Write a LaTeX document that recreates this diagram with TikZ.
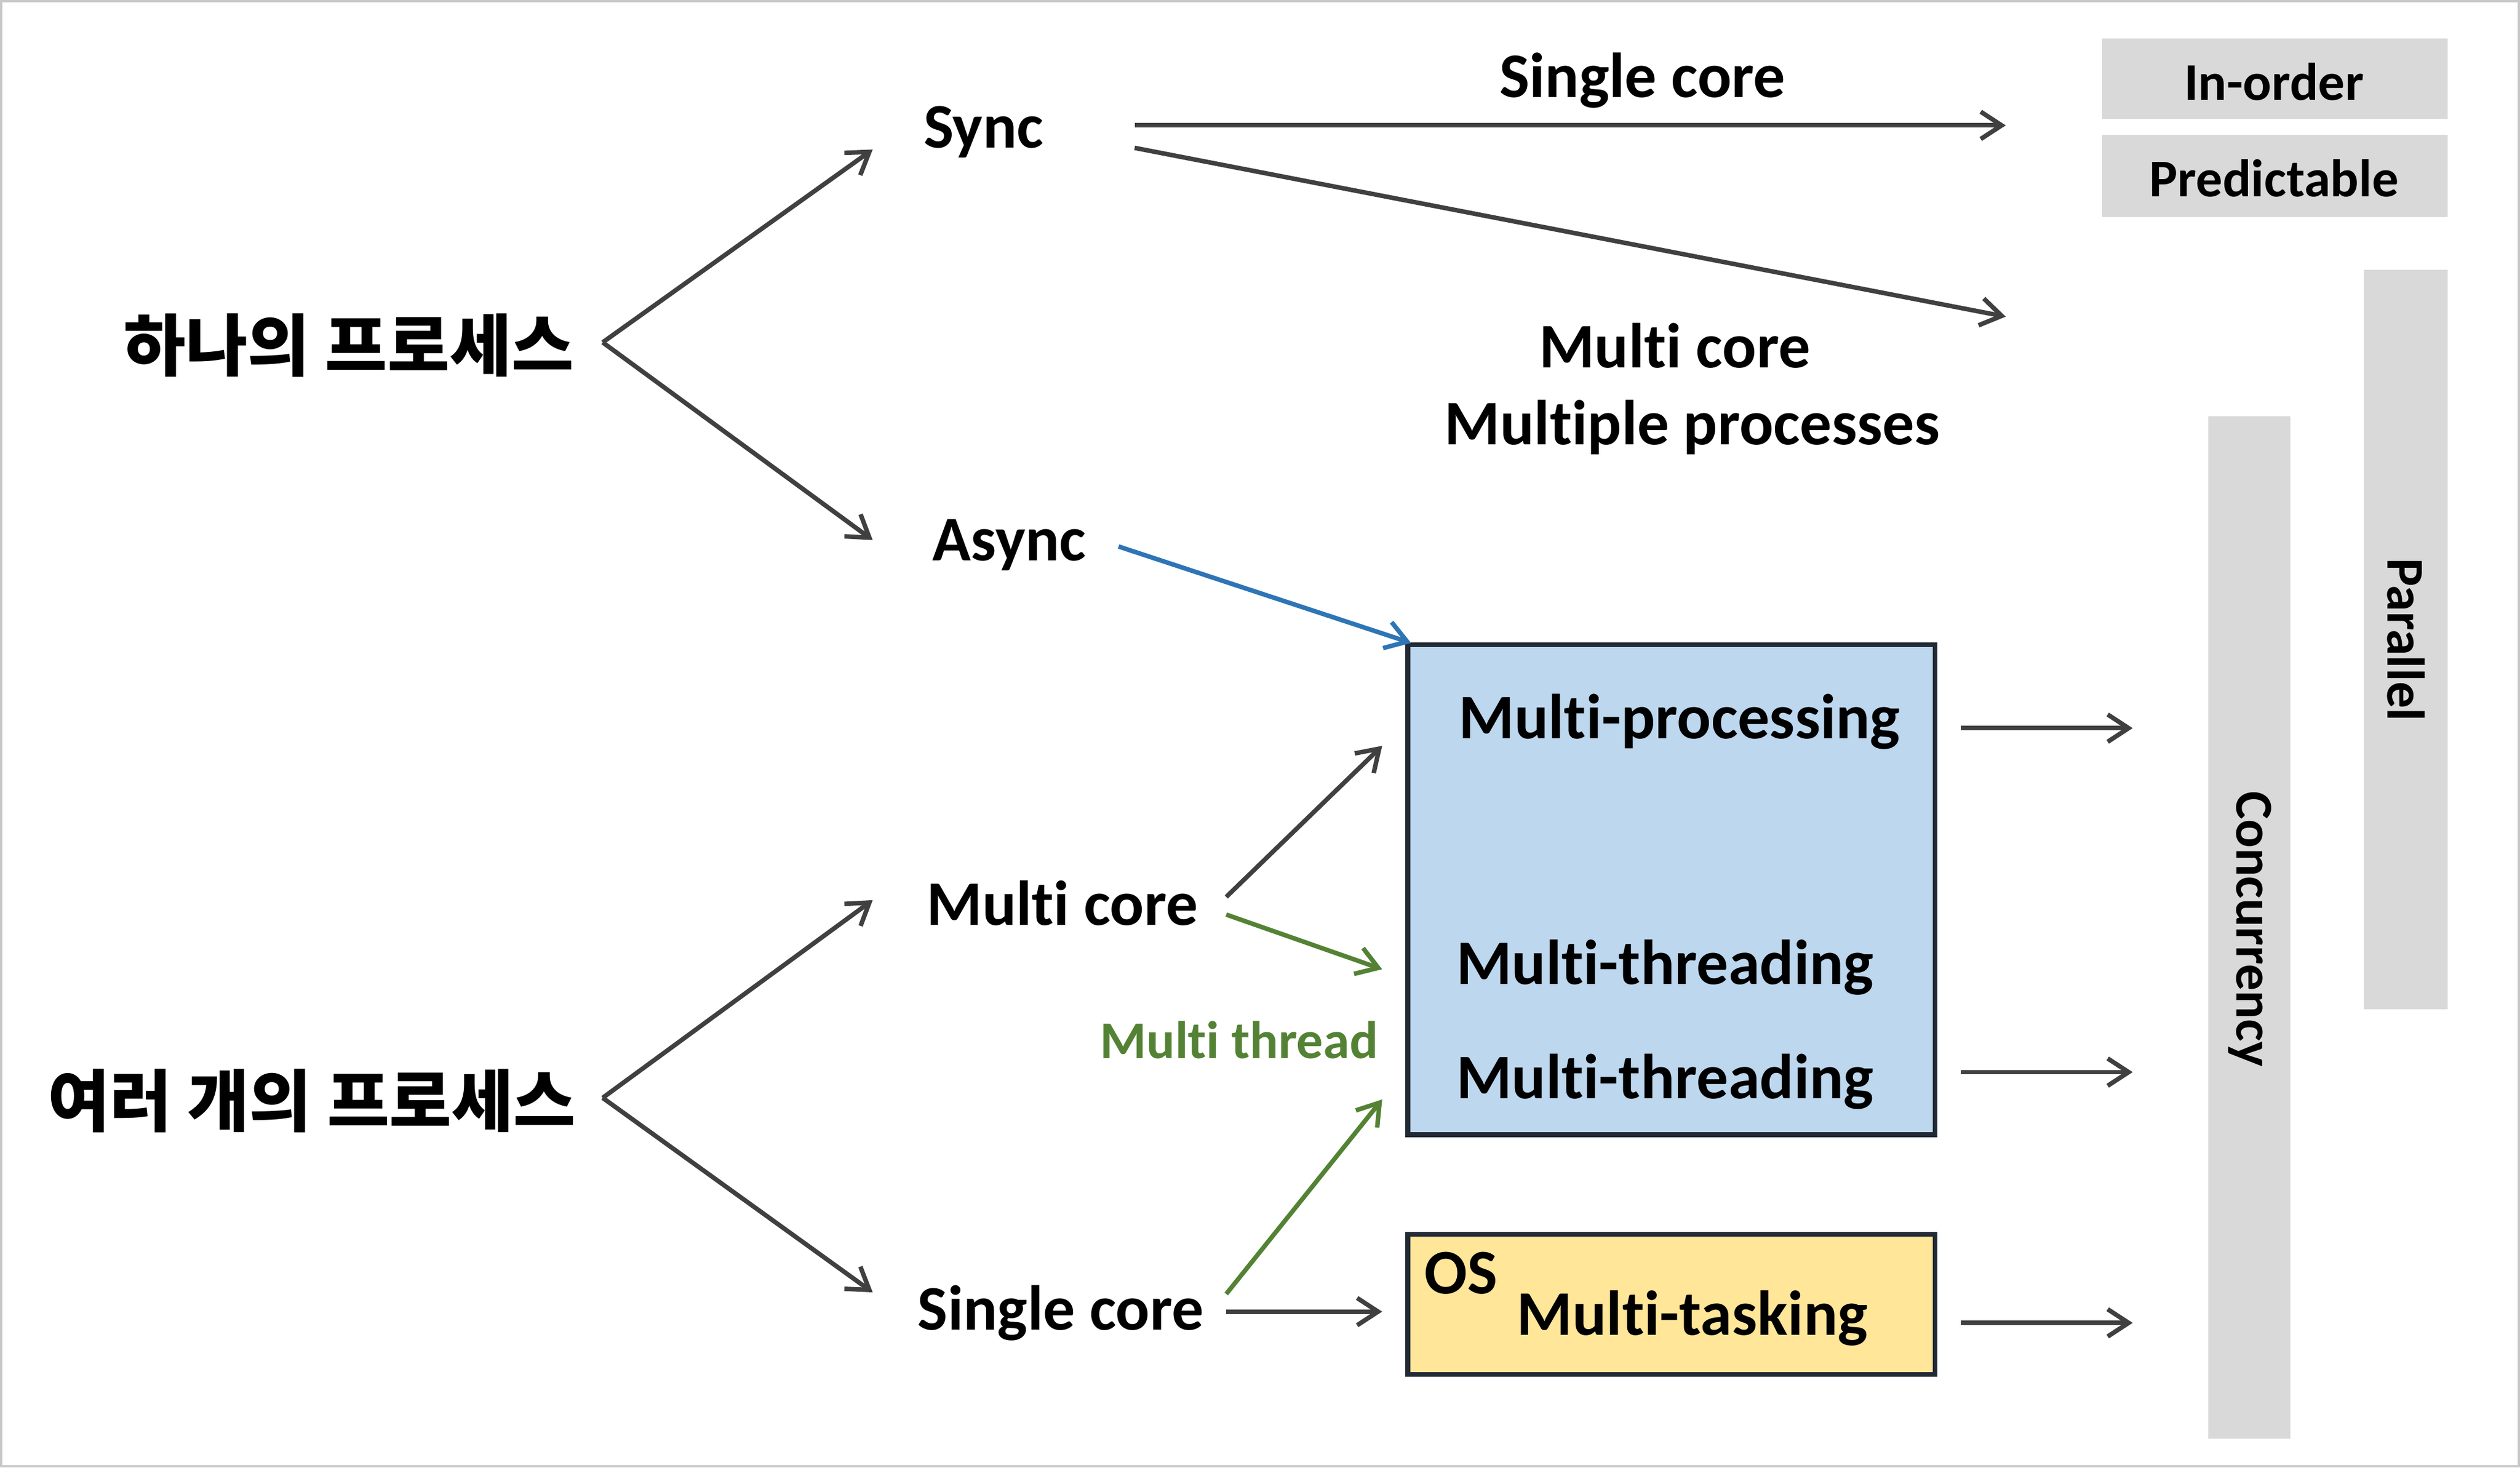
\documentclass[tikz,border=0pt]{standalone}
\usepackage{fontspec}
\setmainfont{Carlito}[Ligatures=NoCommon]
\newfontfamily\kor{Noto Sans CJK KR}
\usetikzlibrary{arrows.meta}

\definecolor{arrowgray}{HTML}{404040}
\definecolor{threadgreen}{HTML}{548235}
\definecolor{asyncblue}{HTML}{2E75B6}
\definecolor{boxline}{HTML}{222A35}
\definecolor{procfill}{HTML}{BDD7EE}
\definecolor{taskfill}{HTML}{FFE699}
\definecolor{barfill}{HTML}{D9D9D9}
\definecolor{framegray}{HTML}{C8C8C8}

\tikzset{
	big/.style={font=\fontsize{39.5}{42}\selectfont\bfseries, inner sep=0pt},
	small/.style={font=\fontsize{33}{35}\selectfont\bfseries, inner sep=0pt},
	korean/.style={font=\kor\fontsize{42}{46}\selectfont\bfseries, inner sep=0pt},
	arr/.style={draw=arrowgray, line width=2.8pt, -{Straight Barb[length=13pt,width=17pt,line width=2.8pt]}},
	greenarr/.style={arr, draw=threadgreen},
	bluearr/.style={arr, draw=asyncblue},
	bar/.style={fill=barfill, draw=none},
}

\begin{document}
\begin{tikzpicture}[x=1pt,y=-1pt]
	\useasboundingbox (0,0) rectangle (1568,913);
	\draw[framegray, line width=1.5pt] (0.75,0.75) rectangle (1567.25,912.25);

	%Gray bars
	\fill[bar] (1308,24) rectangle (1523,74);
	\fill[bar] (1308,84) rectangle (1523,135);
	\fill[bar] (1471,168) rectangle (1523,628);
	\fill[bar] (1374,259) rectangle (1425,895);

	%Boxes
	\draw[boxline, fill=procfill, line width=3pt] (876,401) rectangle (1204,706);
	\draw[boxline, fill=taskfill, line width=3pt] (876,768) rectangle (1204,855);

	%Text
	\node[korean] (one) at (217,215) {하나의 프로세스};
	\node[korean] (many) at (194,685) {여러 개의 프로세스};
	\node[big] (sync) at (612,82) {Sync};
	\node[big] (async) at (628,339) {Async};
	\node[big] (mcore) at (661,562) {Multi core};
	\node[big] (score) at (660,817) {Single core};
	\node[big] (single) at (1022,50) {Single core};
	\node[big] (multi) at (1042,215) {Multi core};
	\node[big] (procs) at (1053,266) {Multiple processes};
	\node[small] (inorder) at (1415,51) {In-order};
	\node[small] (predict) at (1415,111) {Predictable};
	\node[small, rotate=-90] (parallel) at (1497,398) {Parallel};
	\node[small, rotate=-90] (concur) at (1400,578) {Concurrency};
	\node[big] (mproc) at (1045,449) {Multi-processing};
	\node[big] (mthread1) at (1036,602) {Multi-threading};
	\node[big] (mthread2) at (1036,673) {Multi-threading};
	\node[big] (os) at (909,792) {OS};
	\node[big] (mtask) at (1053,820) {Multi-tasking};
	\node[small, threadgreen] (thread) at (771,647) {Multi thread};

	%Arrow ends
	\coordinate (onefork) at (375,213);
	\coordinate (manyfork) at (375,683);
	\coordinate (synctip) at (543,93);
	\coordinate (asynctip) at (543,336);
	\coordinate (mcoretip) at (543,560);
	\coordinate (scoretip) at (543,804);
	\coordinate (syncout1) at (706,78);
	\coordinate (syncout2) at (706,92);
	\coordinate (inordertip) at (1248,78);
	\coordinate (multitip) at (1248,197);
	\coordinate (asyncout) at (696,340);
	\coordinate (proctip) at (878,400);
	\coordinate (mcoreout1) at (763,558);
	\coordinate (mcoreout2) at (763,569);
	\coordinate (mproctip) at (860,464);
	\coordinate (mthreadtip) at (860,603);
	\coordinate (scoreout1) at (763,805);
	\coordinate (scoreout2) at (763,816);
	\coordinate (sthreadtip) at (860,684);
	\coordinate (mtasktip) at (860,816);
	\coordinate (procout) at (1220,453);
	\coordinate (proctip2) at (1327,453);
	\coordinate (threadout) at (1220,667);
	\coordinate (threadtip2) at (1327,667);
	\coordinate (taskout) at (1220,823);
	\coordinate (tasktip2) at (1327,823);

	%Lines
	\draw[arr] (onefork)--(synctip);
	\draw[arr] (onefork)--(asynctip);
	\draw[arr] (manyfork)--(mcoretip);
	\draw[arr] (manyfork)--(scoretip);
	\draw[arr] (syncout1)--(inordertip);
	\draw[arr] (syncout2)--(multitip);
	\draw[bluearr] (asyncout)--(proctip);
	\draw[arr] (mcoreout1)--(mproctip);
	\draw[greenarr] (mcoreout2)--(mthreadtip);
	\draw[greenarr] (scoreout1)--(sthreadtip);
	\draw[arr] (scoreout2)--(mtasktip);
	\draw[arr] (procout)--(proctip2);
	\draw[arr] (threadout)--(threadtip2);
	\draw[arr] (taskout)--(tasktip2);
\end{tikzpicture}
\end{document}
